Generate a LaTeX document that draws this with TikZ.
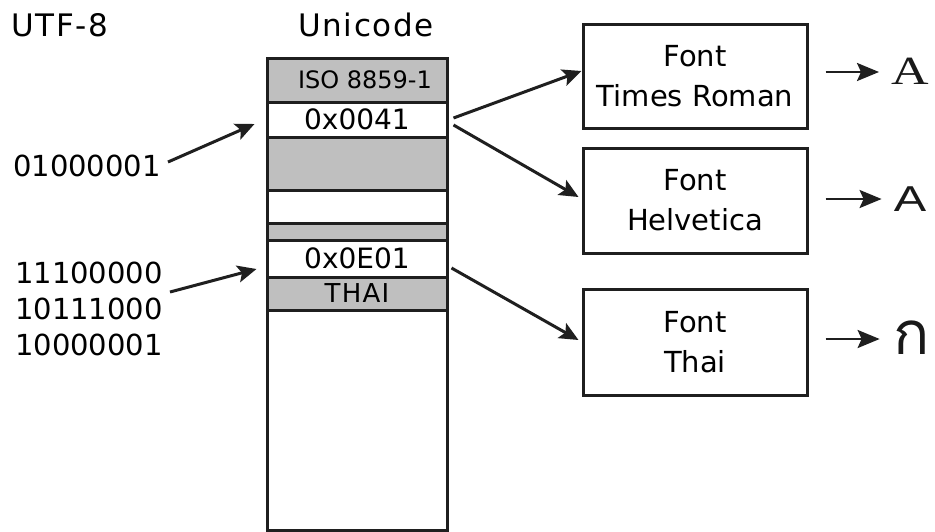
\documentclass[tikz,border=0pt]{standalone}
\usepackage{graphicx}
\usepackage{fontspec}
\setmainfont{DejaVu Sans}
\newfontfamily\spacedfont{DejaVu Sans}[LetterSpace=5]
\newfontfamily\serifglyph{Liberation Serif}
\newfontfamily\sansglyph{Liberation Sans}
\newfontfamily\thaifont[Script=Thai]{Loma}
\usetikzlibrary{arrows.meta}

\tikzset{
  outline/.style={line width=3pt, draw=black!88},
  cell/.style={outline, minimum width=180pt, inner sep=0pt},
  shaded/.style={cell, fill=black!25},
  plain/.style={cell, fill=white},
  fontbox/.style={outline, minimum width=224pt, inner sep=0pt, align=center,
                  font=\fontsize{29}{40}\selectfont},
  link/.style={outline, -{Stealth[length=19pt,width=17pt,inset=4pt]}},
  render/.style={line width=2.6pt, draw=black!88, -{Stealth[length=22pt,width=18pt,inset=4pt]}},
  title/.style={font=\spacedfont\fontsize{31}{34}\selectfont, inner sep=0pt},
  bits/.style={font=\fontsize{29}{36}\selectfont, inner sep=0pt, align=left},
  glyph/.style={inner sep=0pt, text=black!90},
}

\begin{document}
\begin{tikzpicture}[x=1pt, y=-1pt]
  \useasboundingbox (0,0) rectangle (935,531);

  % headings
  \node[title] (utfhead) at (60,25) {UTF-8};
  \node[title] (unihead) at (366,25) {Unicode};

  % the Unicode code space, top to bottom
  \node[plain,  minimum height=220pt] (rest) at (357,420) {};
  \node[shaded, minimum height=44pt]  (latin) at (357,80)
       {\fontsize{24}{28}\selectfont\hspace*{16pt}ISO 8859-1};
  \node[plain,  minimum height=35pt]  (cpA) at (357,119.5)
       {\fontsize{28}{30}\selectfont 0x0041};
  \node[shaded, minimum height=53pt]  (blockA) at (357,163.5) {};
  \node[plain,  minimum height=33pt]  (gapA) at (357,206.5) {};
  \node[shaded, minimum height=17pt]  (blockB) at (357,231.5) {};
  \node[plain,  minimum height=37pt]  (cpKo) at (357,258.5)
       {\fontsize{28}{30}\selectfont 0x0E01};
  \node[shaded, minimum height=33pt]  (thai) at (357,293.5)
       {\spacedfont\fontsize{26}{28}\selectfont THAI};

  % UTF-8 byte sequences
  \node[bits, anchor=east] (bytesA) at (161,166) {01000001};
  \node[bits, anchor=east] (bytesKo) at (163,309)
       {11100000\\10111000\\10000001};

  % fonts
  \node[fontbox, minimum height=104pt] (times) at (695,76)  {Font\\Times Roman};
  \node[fontbox, minimum height=105pt] (helv)  at (695,200.5) {Font\\Helvetica};
  \node[fontbox, minimum height=106pt] (tfont) at (695,342) {Font\\Thai};

  % rendered glyphs
  \node[glyph] (gTimes) at (910,71)
       {\serifglyph\fontsize{40}{40}\selectfont\scalebox{1.3}[1]{A}};
  \node[glyph] (gHelv) at (910,199)
       {\sansglyph\fontsize{36}{40}\selectfont\scalebox{1.35}[1]{A}};
  \node[glyph] (gThai) at (912,338)
       {\thaifont\fontsize{60}{60}\selectfont ก};

  % bytes to code points
  \draw[link] ([xshift=7pt,yshift=4pt]bytesA.east) -- ([xshift=-11pt,yshift=-4.5pt]cpA.west);
  \draw[link] ([xshift=7pt,yshift=17pt]bytesKo.east) -- ([xshift=-9pt,yshift=-10.5pt]cpKo.west);

  % code points to fonts
  \draw[link] ([xshift=5pt,yshift=1.5pt]cpA.east) -- ([yshift=5pt]times.west);
  \draw[link] ([xshift=5pt,yshift=-5.5pt]cpA.east) -- ([xshift=-3pt,yshift=3.5pt]helv.west);
  \draw[link] ([xshift=3pt,yshift=-9.5pt]cpKo.east) -- ([xshift=-3pt,yshift=2pt]tfont.west);

  % fonts to glyphs
  \draw[render] ([xshift=17pt,yshift=4pt]times.east) -- ([xshift=-12pt,yshift=-1pt]gTimes.west);
  \draw[render] ([xshift=17pt,yshift=1.5pt]helv.east) -- ([xshift=-12pt]gHelv.west);
  \draw[render] ([xshift=17pt,yshift=3pt]tfont.east) -- ([xshift=-14pt]gThai.west |- 0,339);
\end{tikzpicture}
\end{document}
